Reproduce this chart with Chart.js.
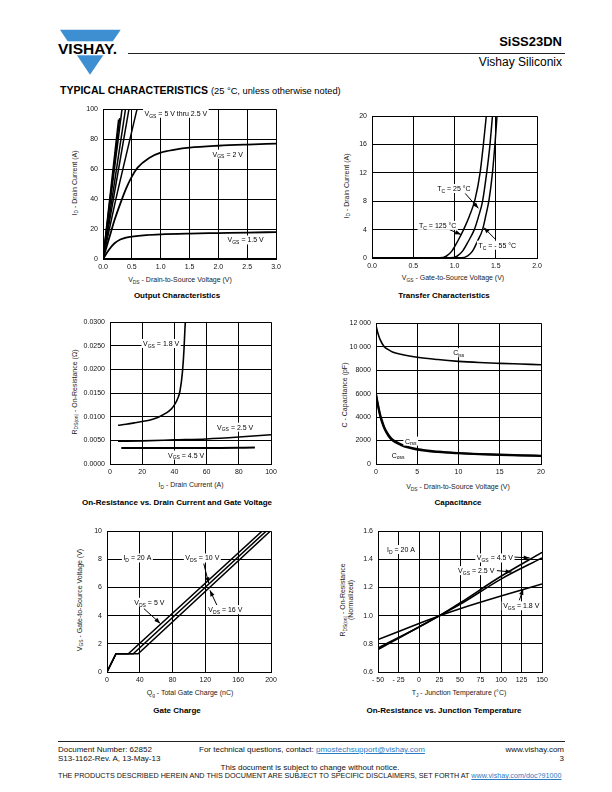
<!DOCTYPE html>
<html><head><meta charset="utf-8">
<script src="https://cdn.jsdelivr.net/npm/chart.js@4.4.1/dist/chart.umd.min.js"></script>
<style>
body{margin:0;background:#fff;}
#page{position:relative;width:612px;height:792px;overflow:hidden;background:#fff;font-family:"Liberation Sans",Arial,Helvetica,sans-serif;color:#000;}
.a{position:absolute;white-space:nowrap;line-height:1.15;}
.cap{font-weight:bold;font-size:8px;transform:translateX(-50%);}
.xt{font-size:7px;transform:translateX(-50%);color:#222;}
.yt{font-size:7px;transform:translate(-50%,-50%) rotate(-90deg);color:#222;text-align:center;}
sub{font-size:70%;vertical-align:-1.5px;line-height:0;}
canvas{position:absolute;}
.ft{font-size:8px;color:#111;}
a{color:#2b7bc4;text-decoration:underline;}
</style></head>
<body><div id="page">

<svg class="a" style="left:55px;top:28px" width="70" height="50">
 <polygon points="5,1.7 65.7,1.7 35,46.7" fill="#3d8fd1"/>
 <rect x="0" y="13.3" width="70" height="14" fill="#fff"/>
 <text x="3" y="26" font-family="Liberation Sans, Arial" font-weight="bold" font-size="15.5" textLength="59" lengthAdjust="spacingAndGlyphs">VISHAY.</text>
</svg>
<div class="a" style="left:128px;top:53px;width:437px;height:1px;background:#222"></div>
<div class="a" style="right:50px;top:35px;font-size:13px;font-weight:bold">SiSS23DN</div>
<div class="a" style="right:50px;top:56px;font-size:12px">Vishay Siliconix</div>
<div class="a" style="left:60px;top:84px;font-size:10.5px"><b>TYPICAL CHARACTERISTICS</b> <span style="font-size:9.3px">(25 °C, unless otherwise noted)</span></div>

<!-- captions -->
<div class="a cap" style="left:177px;top:291px">Output Characteristics</div>
<div class="a cap" style="left:444px;top:291px">Transfer Characteristics</div>
<div class="a cap" style="left:177px;top:498px">On-Resistance vs. Drain Current and Gate Voltage</div>
<div class="a cap" style="left:458px;top:498px">Capacitance</div>
<div class="a cap" style="left:177px;top:706px">Gate Charge</div>
<div class="a cap" style="left:444px;top:706px">On-Resistance vs. Junction Temperature</div>

<!-- axis titles -->
<div class="a xt" style="left:180px;top:276px">V<sub>DS</sub> - Drain-to-Source Voltage (V)</div>
<div class="a yt" style="left:75px;top:183px">I<sub>D</sub> - Drain Current (A)</div>
<div class="a xt" style="left:453px;top:274px">V<sub>GS</sub> - Gate-to-Source Voltage (V)</div>
<div class="a yt" style="left:347px;top:186px">I<sub>D</sub> - Drain Current (A)</div>
<div class="a xt" style="left:191px;top:481px">I<sub>D</sub> - Drain Current (A)</div>
<div class="a yt" style="left:75px;top:392px">R<sub>DS(on)</sub> - On-Resistance (Ω)</div>
<div class="a xt" style="left:458px;top:483px">V<sub>DS</sub> - Drain-to-Source Voltage (V)</div>
<div class="a yt" style="left:345px;top:395px">C - Capacitance (pF)</div>
<div class="a xt" style="left:190px;top:689px">Q<sub>g</sub> - Total Gate Charge (nC)</div>
<div class="a yt" style="left:80px;top:600px">V<sub>GS</sub> - Gate-to-Source Voltage (V)</div>
<div class="a xt" style="left:459px;top:689px">T<sub>J</sub> - Junction Temperature (°C)</div>
<div class="a yt" style="left:347px;top:600px;line-height:8px">R<sub>DS(on)</sub> - On-Resistance<br>(Normalized)</div>

<!-- footer -->
<div class="a" style="left:58px;top:741px;width:507px;height:1px;background:#222"></div>
<div class="a ft" style="left:58px;top:745px">Document Number: 62852</div>
<div class="a ft" style="left:58px;top:754px">S13-1162-Rev. A, 13-May-13</div>
<div class="a ft" style="left:199px;top:745px">For technical questions, contact: <a>pmostechsupport@vishay.com</a></div>
<div class="a ft" style="right:48px;top:745px">www.vishay.com</div>
<div class="a ft" style="right:48px;top:754px">3</div>
<div class="a ft" style="left:310px;top:763px;transform:translateX(-50%)">This document is subject to change without notice.</div>
<div class="a ft" style="left:58px;top:772px;font-size:7.2px">THE PRODUCTS DESCRIBED HEREIN AND THIS DOCUMENT ARE SUBJECT TO SPECIFIC DISCLAIMERS, SET FORTH AT <a>www.vishay.com/doc?91000</a></div>

</div>
<script>
// ---------- DATA ----------
// Output Characteristics
const out_xTickVals=[0,0.5,1,1.5,2,2.5,3];
const out_xTickLabels=['0.0','0.5','1.0','1.5','2.0','2.5','3.0'];
const out_yTickVals=[0,20,40,60,80,100];
const out_yTickLabels=['0','20','40','60','80','100'];
const out_vgs5_x=[0,0.27], out_vgs5_y=[0,93];
const out_vgs45_x=[0,0.29], out_vgs45_y=[0,94];
const out_vgs4_x=[0,0.33], out_vgs4_y=[0,100];
const out_vgs35_x=[0,0.39], out_vgs35_y=[0,100];
const out_vgs3_x=[0,0.45], out_vgs3_y=[0,100];
const out_vgs25_x=[0,0.2,0.4,0.59], out_vgs25_y=[0,36,69,100];
const out_vgs2_x=[0,0.1,0.2,0.3,0.4,0.5,0.6,0.8,1.0,1.25,1.5,2.0,2.5,3.0];
const out_vgs2_y=[0,13,26,37,47,55,61,67.5,71,73,74.3,75.6,76.4,77];
const out_vgs15_x=[0,0.1,0.2,0.3,0.4,0.5,0.75,1.0,1.5,2.0,2.5,3.0];
const out_vgs15_y=[0,6,10.5,13,14.3,15,16,16.5,17,17.3,17.6,18];
const out_vgs1_x=[0,3], out_vgs1_y=[0,0];

// Transfer Characteristics
const tr_xTickVals=[0,0.5,1,1.5,2];
const tr_xTickLabels=['0.0','0.5','1.0','1.5','2.0'];
const tr_yTickVals=[0,4,8,12,16,20];
const tr_yTickLabels=['0','4','8','12','16','20'];
const tr_t125_x=[0,0.82,0.9,0.97,1.04,1.11,1.18,1.25,1.31,1.35,1.385];
const tr_t125_y=[0,0.02,0.25,1.0,2.4,4,5.9,8.3,12,16,20];
const tr_t25_x=[0,0.95,1.03,1.1,1.17,1.24,1.29,1.34,1.39,1.43,1.46];
const tr_t25_y=[0,0.02,0.25,1.0,2.4,4,5.8,8,12,16,20];
const tr_tm55_x=[0,1.08,1.16,1.22,1.28,1.34,1.38,1.42,1.46,1.49,1.515];
const tr_tm55_y=[0,0.02,0.3,1.0,2.4,4,6,8.3,12,16,20];

// On-Resistance vs Drain Current
const rd_xTickVals=[0,20,40,60,80,100];
const rd_xTickLabels=['0','20','40','60','80','100'];
const rd_yTickVals=[0,0.005,0.01,0.015,0.02,0.025,0.03];
const rd_yTickLabels=['0.0000','0.0050','0.0100','0.0150','0.0200','0.0250','0.0300'];
const rd_vgs18_x=[5,10,15,20,25,30,35,38,40,42,43.5,45,46,46.6,47];
const rd_vgs18_y=[0.0082,0.0084,0.0087,0.0090,0.0093,0.0099,0.0108,0.0116,0.0125,0.0138,0.0155,0.0195,0.0245,0.0290,0.031];
const rd_vgs25_x=[5,20,40,60,80,100];
const rd_vgs25_y=[0.0048,0.0049,0.0051,0.0053,0.0057,0.0062];
const rd_vgs45_x=[7,30,60,90];
const rd_vgs45_y=[0.0034,0.0034,0.0034,0.0035];

// Capacitance
const cp_xTickVals=[0,5,10,15,20];
const cp_xTickLabels=['0','5','10','15','20'];
const cp_yTickVals=[0,2000,4000,6000,8000,10000,12000];
const cp_yTickLabels=['0','2000','4000','6000','8000','10 000','12 000'];
const cp_ciss_x=[0,0.25,0.5,1,1.5,2,3,5,7.5,10,12.5,15,17.5,20];
const cp_ciss_y=[11800,11100,10600,10000,9750,9550,9350,9100,8900,8750,8650,8580,8520,8460];
const cp_coss_x=[0,0.25,0.5,0.75,1,1.5,2,3,4,5,7.5,10,12.5,15,17.5,20];
const cp_coss_y=[5900,4900,4100,3500,3050,2400,2000,1620,1380,1220,1020,910,830,770,720,680];
const cp_crss_x=[0,0.25,0.5,0.75,1,1.5,2,3,4,5,7.5,10,12.5,15,17.5,20];
const cp_crss_y=[6000,5050,4250,3650,3150,2500,2080,1690,1440,1270,1060,940,860,800,750,710];

// Gate Charge
const gc_xTickVals=[0,40,80,120,160,200];
const gc_xTickLabels=['0','40','80','120','160','200'];
const gc_yTickVals=[0,2,4,6,8,10];
const gc_yTickLabels=['0','2','4','6','8','10'];
const gc_vds5_x=[0,11,26,189], gc_vds5_y=[0,1.3,1.3,10];
const gc_vds10_x=[0,11,32,194], gc_vds10_y=[0,1.3,1.3,10];
const gc_vds16_x=[0,11,38,199], gc_vds16_y=[0,1.3,1.3,10];

// On-Resistance vs Junction Temperature
const rt_xTickVals=[-50,-25,0,25,50,75,100,125,150];
const rt_xTickLabels=['- 50','- 25','0','25','50','75','100','125','150'];
const rt_yTickVals=[0.6,0.8,1.0,1.2,1.4,1.6];
const rt_yTickLabels=['0.6','0.8','1.0','1.2','1.4','1.6'];
const rt_vgs45_x=[-50,0,25,50,100,150], rt_vgs45_y=[0.76,0.92,1.0,1.09,1.28,1.45];
const rt_vgs25_x=[-50,0,25,50,100,150], rt_vgs25_y=[0.77,0.92,1.0,1.08,1.26,1.41];
const rt_vgs18_x=[-50,0,25,50,100,150], rt_vgs18_y=[0.83,0.945,1.0,1.05,1.14,1.225];

// ---------- RENDER ----------
const FONT='"Liberation Sans", Arial, Helvetica, sans-serif';
const MAINF='7px '+FONT, SUBF='5px '+FONT;
const page=document.getElementById('page');
function richWidth(ctx,parts){let w=0;parts.forEach(p=>{ctx.font=p[1]?SUBF:MAINF;w+=ctx.measureText(p[0]).width;});return w;}
function drawRich(ctx,x,y,parts){parts.forEach(p=>{ctx.font=p[1]?SUBF:MAINF;ctx.fillText(p[0],x,y+(p[1]?1.8:0));x+=ctx.measureText(p[0]).width;});}
function notes(items){return {id:'notes',afterDatasetsDraw(chart){
  const ctx=chart.ctx,X=chart.scales.x,Y=chart.scales.y;
  ctx.save();ctx.textBaseline='alphabetic';ctx.textAlign='left';
  items.forEach(it=>{
    if(it.arrow){
      const [a,b,c,d]=it.arrow;
      const x1=X.getPixelForValue(a),y1=Y.getPixelForValue(b),x2=X.getPixelForValue(c),y2=Y.getPixelForValue(d);
      ctx.strokeStyle='#000';ctx.fillStyle='#000';ctx.lineWidth=1;
      ctx.beginPath();ctx.moveTo(x1,y1);ctx.lineTo(x2,y2);ctx.stroke();
      const g=Math.atan2(y2-y1,x2-x1),L=6,W=2.2;
      ctx.beginPath();ctx.moveTo(x2,y2);
      ctx.lineTo(x2-L*Math.cos(g)+W*Math.sin(g),y2-L*Math.sin(g)-W*Math.cos(g));
      ctx.lineTo(x2-L*Math.cos(g)-W*Math.sin(g),y2-L*Math.sin(g)+W*Math.cos(g));
      ctx.closePath();ctx.fill();
    } else {
      const px=X.getPixelForValue(it.x),py=Y.getPixelForValue(it.y);
      const w=richWidth(ctx,it.t);
      ctx.fillStyle='#fff';ctx.fillRect(px-1.5,py-4.5,w+3,9);
      ctx.fillStyle='#000';drawRich(ctx,px,py+2.5,it.t);
    }
  });
  ctx.restore();}};}

function makeChart(cfg){
  const P={l:42,t:8,r:14,b:16};
  const bx=cfg.box;
  const W=bx.r-bx.l+P.l+P.r,H=bx.b-bx.t+P.t+P.b;
  const c=document.createElement('canvas');
  c.width=W;c.height=H;c.style.width=W+'px';c.style.height=H+'px';
  c.style.left=(bx.l-P.l)+'px';c.style.top=(bx.t-P.t)+'px';
  page.appendChild(c);
  const axis=(vals,labs,isX)=>({type:'linear',min:vals[0],max:vals[vals.length-1],
    afterBuildTicks:a=>{a.ticks=vals.map(v=>({value:v}));},
    afterFit:a=>{if(isX)a.height=P.b;else a.width=P.l;},
    ticks:{callback:(v,i)=>labs[i],font:{family:FONT,size:7},color:'#111',padding:isX?4:5,maxRotation:0,minRotation:0,autoSkip:false},
    grid:{color:'#000',lineWidth:1,drawTicks:false},
    border:{color:'#000',width:1}});
  new Chart(c,{type:'scatter',
    data:{datasets:cfg.series.map(s=>({data:s.x.map((x,i)=>({x:x,y:s.y[i]})),showLine:true,borderColor:'#000',
      borderWidth:s.w||1.5,pointRadius:0,cubicInterpolationMode:s.smooth?'monotone':'default',tension:0,fill:false}))},
    options:{responsive:false,animation:false,devicePixelRatio:1,events:[],
      layout:{padding:{left:0,top:P.t,right:P.r,bottom:0}},
      plugins:{legend:{display:false},tooltip:{enabled:false}},
      scales:{x:axis(cfg.xv,cfg.xl,true),y:axis(cfg.yv,cfg.yl,false)}},
    plugins:[notes(cfg.notes||[])]});
}
const V=(s)=>[['V'],[s,1]];

makeChart({box:{l:103,t:108,r:276,b:259},xv:out_xTickVals,xl:out_xTickLabels,yv:out_yTickVals,yl:out_yTickLabels,
  series:[{x:out_vgs5_x,y:out_vgs5_y},{x:out_vgs45_x,y:out_vgs45_y},{x:out_vgs4_x,y:out_vgs4_y},{x:out_vgs35_x,y:out_vgs35_y},
    {x:out_vgs3_x,y:out_vgs3_y},{x:out_vgs25_x,y:out_vgs25_y,smooth:1},{x:out_vgs2_x,y:out_vgs2_y,smooth:1,w:1.8},
    {x:out_vgs15_x,y:out_vgs15_y,smooth:1,w:1.8},{x:out_vgs1_x,y:out_vgs1_y,w:2}],
  notes:[{x:0.72,y:97.3,t:V('GS').concat([[' = 5 V thru 2.5 V']])},{x:1.9,y:70,t:V('GS').concat([[' = 2 V']])},{x:2.16,y:12.7,t:V('GS').concat([[' = 1.5 V']])}]});

makeChart({box:{l:372,t:115,r:537,b:258},xv:tr_xTickVals,xl:tr_xTickLabels,yv:tr_yTickVals,yl:tr_yTickLabels,
  series:[{x:tr_t125_x,y:tr_t125_y,smooth:1},{x:tr_t25_x,y:tr_t25_y,smooth:1},{x:tr_tm55_x,y:tr_tm55_y,smooth:1}],
  notes:[{arrow:[1.13,9.1,1.29,7.0]},{arrow:[0.86,4.4,1.08,3.3]},{arrow:[1.49,2.7,1.355,4.3]},
    {x:0.79,y:9.8,t:[['T'],['C',1],[' = 25 °C']]},{x:0.57,y:4.6,t:[['T'],['C',1],[' = 125 °C']]},{x:1.29,y:1.8,t:[['T'],['C',1],[' = - 55 °C']]}]});

makeChart({box:{l:110,t:321,r:271,b:464},xv:rd_xTickVals,xl:rd_xTickLabels,yv:rd_yTickVals,yl:rd_yTickLabels,
  series:[{x:rd_vgs18_x,y:rd_vgs18_y,smooth:1,w:1.6},{x:rd_vgs25_x,y:rd_vgs25_y,smooth:1,w:1.6},{x:rd_vgs45_x,y:rd_vgs45_y,smooth:1,w:2}],
  notes:[{x:20.5,y:0.0255,t:V('GS').concat([[' = 1.8 V']])},{x:66.5,y:0.0078,t:V('GS').concat([[' = 2.5 V']])},{x:36,y:0.0019,t:V('GS').concat([[' = 4.5 V']])}]});

makeChart({box:{l:376,t:322,r:541,b:464},xv:cp_xTickVals,xl:cp_xTickLabels,yv:cp_yTickVals,yl:cp_yTickLabels,
  series:[{x:cp_ciss_x,y:cp_ciss_y,smooth:1,w:1.6},{x:cp_coss_x,y:cp_coss_y,smooth:1,w:2},{x:cp_crss_x,y:cp_crss_y,smooth:1,w:2}],
  notes:[{x:9.35,y:9485,t:[['C'],['iss',1]]},{x:3.5,y:1950,t:[['C'],['rss',1]]},{x:1.9,y:760,t:[['C'],['oss',1]]}]});

makeChart({box:{l:107,t:530,r:271,b:672},xv:gc_xTickVals,xl:gc_xTickLabels,yv:gc_yTickVals,yl:gc_yTickLabels,
  series:[{x:gc_vds5_x,y:gc_vds5_y,w:1.5},{x:gc_vds10_x,y:gc_vds10_y,w:1.5},{x:gc_vds16_x,y:gc_vds16_y,w:1.5}],
  notes:[{arrow:[118,7.7,124,6.3]},{arrow:[45,4.5,65,3.45]},{arrow:[134,4.75,125.5,5.8]},
    {x:20,y:8.1,t:[['I'],['D',1],[' = 20 A']]},{x:95.5,y:8.1,t:V('DS').concat([[' = 10 V']])},
    {x:33.3,y:4.95,t:V('DS').concat([[' = 5 V']])},{x:123.6,y:4.43,t:V('DS').concat([[' = 16 V']])}]});

makeChart({box:{l:378,t:530,r:542,b:672},xv:rt_xTickVals,xl:rt_xTickLabels,yv:rt_yTickVals,yl:rt_yTickLabels,
  series:[{x:rt_vgs45_x,y:rt_vgs45_y,smooth:1,w:1.6},{x:rt_vgs25_x,y:rt_vgs25_y,smooth:1,w:1.6},{x:rt_vgs18_x,y:rt_vgs18_y,smooth:1,w:1.6}],
  notes:[{arrow:[114,1.417,135,1.41]},{arrow:[95,1.32,113,1.31]},{arrow:[122.4,1.11,127,1.19]},
    {x:-39,y:1.47,t:[['I'],['D',1],[' = 20 A']]},{x:70.5,y:1.41,t:V('GS').concat([[' = 4.5 V']])},
    {x:47.7,y:1.32,t:V('GS').concat([[' = 2.5 V']])},{x:102.6,y:1.07,t:V('GS').concat([[' = 1.8 V']])}]});
</script>
</body></html>
